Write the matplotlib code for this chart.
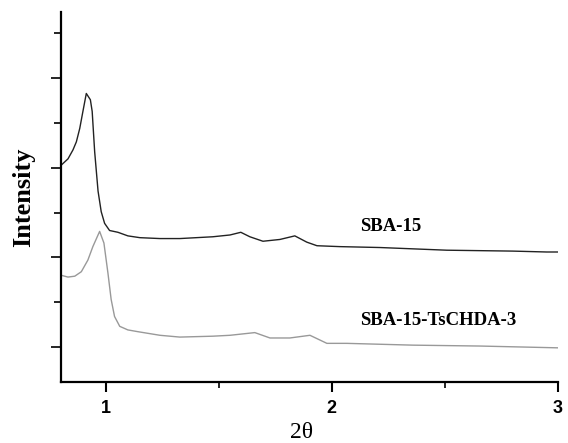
import numpy as np
import matplotlib.pyplot as plt
from matplotlib.ticker import MultipleLocator

# SBA-15 (black trace)
theta_sba = [0.802, 0.832, 0.854, 0.869, 0.884, 0.898, 0.913, 0.931, 0.939, 0.950,
             0.965, 0.979, 0.994, 1.016, 1.053, 1.097, 1.150, 1.239, 1.327, 1.473,
             1.549, 1.597, 1.637, 1.695, 1.770, 1.836, 1.889, 1.934, 2.035, 2.212,
             2.509, 2.801, 2.951, 3.0]
int_sba = [2.03, 2.10, 2.20, 2.29, 2.44, 2.63, 2.83, 2.76, 2.63, 2.18,
           1.74, 1.51, 1.38, 1.30, 1.28, 1.24, 1.22, 1.21, 1.21, 1.23,
           1.25, 1.28, 1.23, 1.18, 1.20, 1.24, 1.17, 1.13, 1.12, 1.11,
           1.08, 1.07, 1.06, 1.06]

# SBA-15-TsCHDA-3 (grey trace)
theta_ts = [0.802, 0.832, 0.862, 0.891, 0.920, 0.942, 0.972, 0.991, 1.009, 1.023,
            1.038, 1.061, 1.097, 1.142, 1.239, 1.327, 1.473, 1.549, 1.659, 1.726,
            1.814, 1.903, 1.978, 2.066, 2.358, 2.655, 3.0]
int_ts = [0.80, 0.78, 0.79, 0.84, 0.97, 1.12, 1.29, 1.16, 0.82, 0.53,
          0.34, 0.23, 0.19, 0.17, 0.13, 0.11, 0.12, 0.13, 0.16, 0.10,
          0.10, 0.13, 0.04, 0.04, 0.02, 0.01, -0.01]

labels = ["SBA-15", "SBA-15-TsCHDA-3"]
label_pos = [(2.124, 1.34), (2.124, 0.30)]

fig = plt.figure(figsize=(5.68, 4.43), dpi=100)
ax = fig.add_axes([0.107, 0.138, 0.875, 0.835])

ax.plot(theta_sba, int_sba, color="#222222", lw=1.0)
ax.plot(theta_ts, int_ts, color="#999999", lw=1.0)

for txt, (x, y) in zip(labels, label_pos):
    ax.text(x, y, txt, fontfamily="Liberation Serif", fontweight="bold",
            fontsize=13.5, ha="left", va="center")

ax.set_xlim(0.8, 3.0)
ax.set_ylim(-0.39, 3.74)

ax.xaxis.set_major_locator(MultipleLocator(1))
ax.xaxis.set_minor_locator(MultipleLocator(0.5))
ax.yaxis.set_major_locator(MultipleLocator(1))
ax.yaxis.set_minor_locator(MultipleLocator(0.5))
ax.set_yticklabels([])

ax.tick_params(axis="x", which="major", length=7, width=1.5, direction="out", pad=6)
ax.tick_params(axis="x", which="minor", length=4, width=1.2, direction="out")
ax.tick_params(axis="y", which="major", length=7, width=1.2, direction="out")
ax.tick_params(axis="y", which="minor", length=5, width=1.2, direction="out")
for lab in ax.get_xticklabels():
    lab.set_fontfamily("Liberation Sans")
    lab.set_fontweight("bold")
    lab.set_fontsize(13)

for side in ["top", "right"]:
    ax.spines[side].set_visible(False)
for side in ["left", "bottom"]:
    ax.spines[side].set_linewidth(1.6)

fig.text(302 / 568, 1 - 433 / 443, "2θ", fontfamily="Liberation Serif",
         fontsize=17, ha="center", va="center")
ax.set_ylabel("Intensity", fontfamily="Liberation Serif", fontweight="bold",
              fontsize=19, labelpad=8)

fig.savefig("out.png", dpi=100)
